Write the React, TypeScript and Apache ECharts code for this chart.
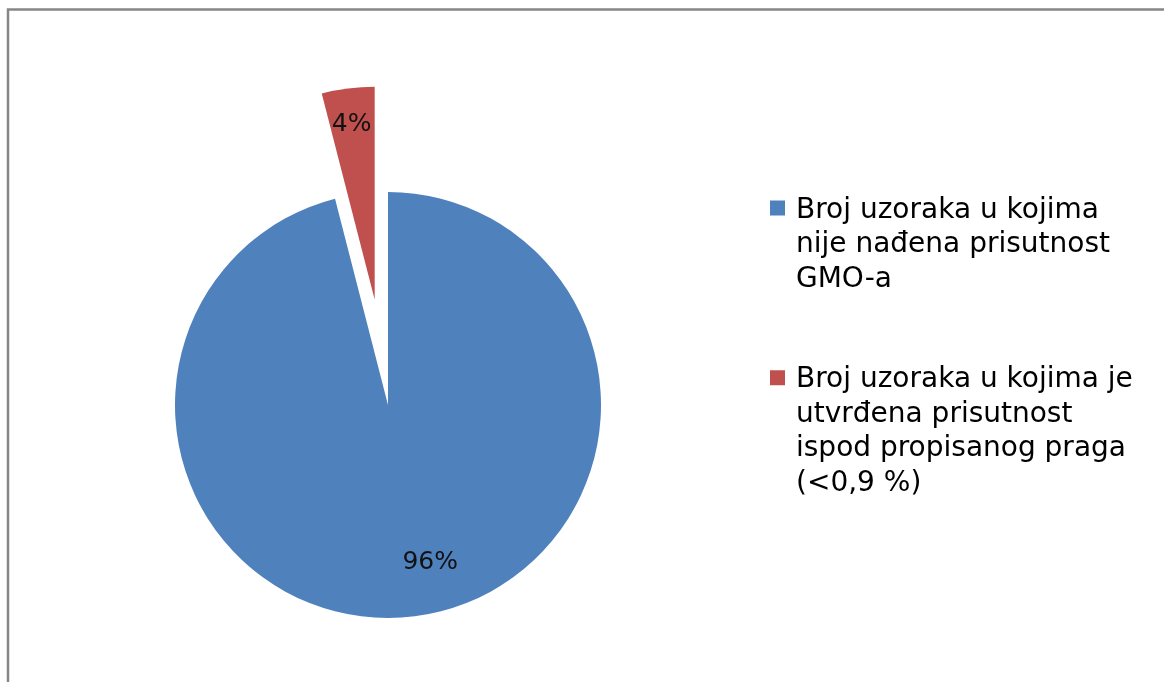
import React, { useEffect, useRef } from "react";
import * as echarts from "echarts";

const categories = [
  "Broj uzoraka u kojima\nnije nađena prisutnost\nGMO-a",
  "Broj uzoraka u kojima je\nutvrđena prisutnost\nispod propisanog praga\n(<0,9 %)",
];
const shares = [96, 4];
const sliceColors = ["#4F81BD", "#C0504D"];
const explodedIndex = 1;

export default function App() {
  const ref = useRef<HTMLDivElement>(null);
  useEffect(() => {
    const chart = echarts.init(ref.current!, null, { renderer: "svg" });
    const lineH = 34.5;
    const itemH = 138;
    const iconW = 21;
    const squareIcon = (lines: number) => {
      const top = itemH / 2 - (lines * lineH) / 2;
      const cy = top + lineH / 2;
      return `path://M0,0L0,0M${iconW},${itemH}L${iconW},${itemH}M0,${cy - 7.5}L15,${cy - 7.5}L15,${cy + 7.5}L0,${cy + 7.5}Z`;
    };
    const labelShift = [
      [28.5, 47],
      [-9.4, -68.6],
    ];
    chart.setOption({
      animation: false,
      graphic: [
        {
          type: "rect",
          silent: true,
          z: -1,
          shape: { x: 8, y: 9.5, width: 1400, height: 900 },
          style: { fill: "none", stroke: "#868686", lineWidth: 2.5 },
        },
      ],
      legend: {
        orient: "vertical",
        left: 770,
        top: 173.5,
        padding: 0,
        itemGap: 49,
        itemWidth: iconW,
        itemHeight: itemH,
        selectedMode: false,
        itemStyle: { borderWidth: 0 },
        textStyle: {
          fontFamily: "DejaVu Sans",
          fontSize: 28,
          color: "#000",
          lineHeight: lineH,
        },
        data: categories.map((name) => ({
          name,
          icon: squareIcon(name.split("\n").length),
        })),
      },
      series: [
        {
          type: "pie",
          center: [388, 405],
          radius: 213,
          startAngle: 90,
          clockwise: true,
          selectedMode: "single",
          selectedOffset: 106,
          avoidLabelOverlap: false,
          emphasis: { disabled: true },
          itemStyle: { borderWidth: 0 },
          label: {
            show: true,
            position: "inside",
            formatter: (p: any) => `${p.value}%`,
            fontFamily: "DejaVu Sans",
            fontSize: 25,
            color: "#111",
          },
          labelLine: { show: false },
          labelLayout: (p: any) => ({
            dx: labelShift[p.dataIndex][0],
            dy: labelShift[p.dataIndex][1],
          }),
          data: categories.map((name, i) => ({
            name,
            value: shares[i],
            selected: i === explodedIndex,
            itemStyle: { color: sliceColors[i] },
          })),
        },
      ],
    });
    return () => chart.dispose();
  }, []);
  return (
    <div
      ref={ref}
      style={{ position: "fixed", left: 0, top: 0, width: 1164, height: 682 }}
    />
  );
}
